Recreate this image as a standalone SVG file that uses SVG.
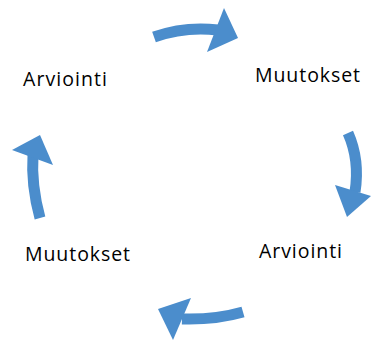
<svg xmlns="http://www.w3.org/2000/svg" width="371" height="342" viewBox="0 0 371 342">
<style>
.lbl{font-family:"Open Sans","Noto Sans","DejaVu Sans",sans-serif;font-size:19.5px;fill:#000}
.shaft{fill:none;stroke:#4B8DCC;stroke-width:11;stroke-linecap:butt}
.head{fill:#4B8DCC;stroke:none}
</style>
<rect width="371" height="342" fill="#fff"/>
<g id="connectors">
<g id="arrow-top">
<path class="shaft" d="M154,37 Q185,26 218,30"/>
<polygon class="head" points="224,8 238,38 207,52"/>
</g>
<g id="arrow-right">
<path class="shaft" d="M348,133 Q360,160 355,192"/>
<polygon class="head" points="335,185 371,196 347,217"/>
</g>
<g id="arrow-bottom">
<path class="shaft" d="M243,312 Q215,320 182,319"/>
<polygon class="head" points="191,298 158,309 173,340"/>
</g>
<g id="arrow-left">
<path class="shaft" d="M40,218 Q31,185 33,155"/>
<polygon class="head" points="40,135 12,150 53,165"/>
</g>
</g>
<g id="node-arviointi-1"><text class="lbl" x="23" y="86" textLength="84" lengthAdjust="spacing">Arviointi</text></g>
<g id="node-muutokset-1"><text class="lbl" x="255" y="82" textLength="105" lengthAdjust="spacing">Muutokset</text></g>
<g id="node-arviointi-2"><text class="lbl" x="259" y="258" textLength="83" lengthAdjust="spacing">Arviointi</text></g>
<g id="node-muutokset-2"><text class="lbl" x="25" y="261" textLength="105" lengthAdjust="spacing">Muutokset</text></g>
</svg>
